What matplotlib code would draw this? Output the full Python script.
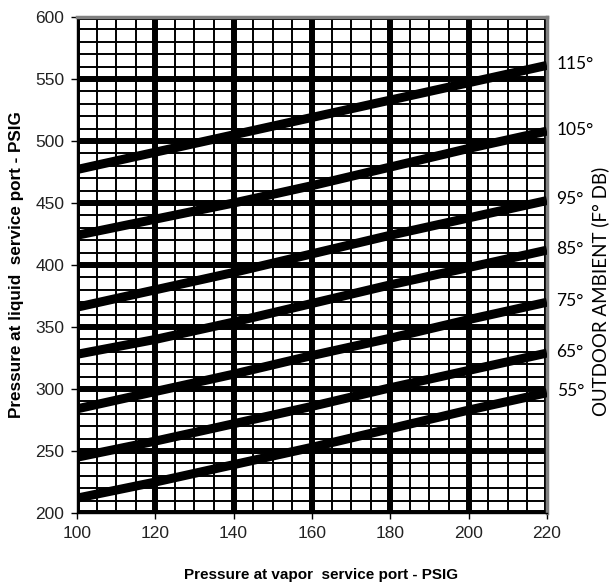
import matplotlib

matplotlib.use("Agg")
import matplotlib.pyplot as plt
from matplotlib.ticker import MultipleLocator

# vapor pressure (x) sample points
vapor = [100, 120, 140, 160, 180, 200, 220]

# liquid pressure
liquid_55 = [212, 225, 239, 253, 268, 283, 297]
liquid_65 = [245, 258, 272, 286, 301, 315, 329]
liquid_75 = [284, 298, 312, 327, 341, 356, 370]
liquid_85 = [328, 340, 354, 369, 384, 398, 412]
liquid_95 = [366, 380, 394, 409, 424, 438, 452]
liquid_105 = [424, 437, 450, 464, 479, 494, 508]
liquid_115 = [477, 491, 505, 519, 533, 547, 561]

curve_labels = ["55°", "65°", "75°", "85°", "95°", "105°", "115°"]
curves = [liquid_55, liquid_65, liquid_75, liquid_85, liquid_95, liquid_105, liquid_115]


def main():
    plt.rcParams["font.family"] = ["Liberation Sans", "DejaVu Sans"]
    fig = plt.figure(figsize=(6.09, 5.87), dpi=100)
    ax = fig.add_axes([0.1264, 0.126, 0.7716, 0.845])

    ax.set_xlim(100, 220)
    ax.set_ylim(200, 600)

    ax.xaxis.set_major_locator(MultipleLocator(20))
    ax.xaxis.set_minor_locator(MultipleLocator(5))
    ax.yaxis.set_major_locator(MultipleLocator(50))
    ax.yaxis.set_minor_locator(MultipleLocator(10))

    ax.grid(which="minor", color="black", linewidth=1.4)
    ax.grid(which="major", color="black", linewidth=4.3)
    ax.set_axisbelow(True)

    for ys in curves:
        ax.plot(vapor, ys, color="black", linewidth=6.5, solid_capstyle="butt", zorder=3)

    # curve labels on the right side
    for lab, ys in zip(curve_labels, curves):
        ax.annotate(lab, xy=(220, ys[-1]), xytext=(7, 1), textcoords="offset points",
                    va="center", ha="left", fontsize=12.5, family=["Lato", "DejaVu Sans"],
                    annotation_clip=False)

    ax.tick_params(which="minor", length=0)
    ax.tick_params(which="major", length=4, width=1, direction="out", labelsize=12.5,
                   colors="black", labelcolor="#222222")
    ax.tick_params(axis="x", pad=5)
    ax.tick_params(axis="y", pad=5)

    for side in ("top", "right"):
        ax.spines[side].set_color("#808080")
        ax.spines[side].set_linewidth(2.5)
    for side in ("left", "bottom"):
        ax.spines[side].set_color("black")
        ax.spines[side].set_linewidth(1)

    ax.set_xlabel("Pressure at vapor  service port - PSIG", fontsize=11, fontweight="bold")
    ax.set_ylabel("Pressure at liquid  service port - PSIG", fontsize=12.3, fontweight="bold")
    ax.xaxis.set_label_coords(0.52, -0.11)
    ax.yaxis.set_label_coords(-0.112, 0.5)

    fig.text(0.986, 0.504, "OUTDOOR AMBIENT (F° DB)", rotation=90, va="center", ha="center",
             fontsize=13.5, family=["Lato", "DejaVu Sans"])

    fig.savefig("out.png", dpi=100)
    plt.close(fig)


if __name__ == "__main__":
    main()
